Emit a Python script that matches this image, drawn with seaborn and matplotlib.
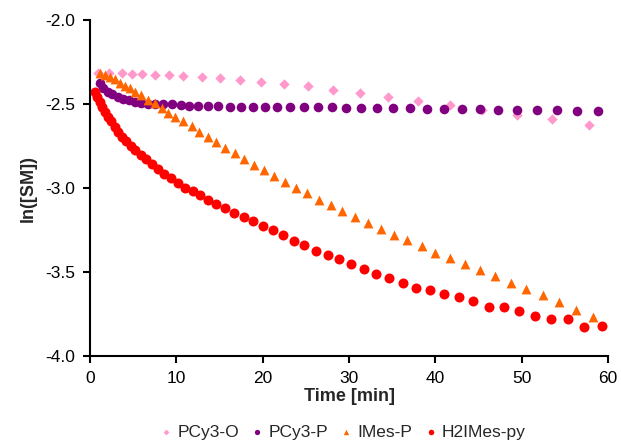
import numpy as np
import pandas as pd
import seaborn as sns
import matplotlib.pyplot as plt

# data
pcy3o_t = [0.89, 2.20, 3.75, 4.84, 6.00, 7.54, 9.16, 10.79, 12.96, 15.08, 17.40, 19.80,
           22.42, 25.21, 28.15, 31.24, 34.54, 38.05, 41.68, 45.44, 49.42, 53.56, 57.81]
pcy3o_y = [-2.311, -2.313, -2.314, -2.318, -2.320, -2.324, -2.326, -2.332, -2.336, -2.344,
           -2.354, -2.364, -2.376, -2.392, -2.412, -2.432, -2.454, -2.479, -2.503, -2.533,
           -2.563, -2.590, -2.622]

pcy3p_t = [1.16, 1.54, 2.05, 2.59, 3.21, 3.86, 4.56, 5.22, 5.92, 6.69, 7.54, 8.50, 9.48,
           10.56, 11.52, 12.56, 13.72, 14.88, 16.16, 17.48, 18.83, 20.30, 21.66, 23.20,
           24.74, 26.37, 27.99, 29.70, 31.44, 33.26, 35.12, 37.04, 38.98, 40.95, 43.04,
           45.13, 47.30, 49.50, 51.78, 54.06, 56.42, 58.82]
pcy3p_y = [-2.374, -2.404, -2.424, -2.439, -2.454, -2.467, -2.477, -2.487, -2.493, -2.499,
           -2.499, -2.499, -2.500, -2.506, -2.509, -2.509, -2.509, -2.509, -2.513, -2.515,
           -2.515, -2.517, -2.513, -2.513, -2.515, -2.515, -2.517, -2.519, -2.519, -2.521,
           -2.521, -2.523, -2.525, -2.525, -2.529, -2.529, -2.533, -2.535, -2.533, -2.535,
           -2.539, -2.540]

imes_t = [1.16, 1.74, 2.32, 2.90, 3.48, 4.06, 4.64, 5.22, 5.92, 6.69, 7.54, 8.32, 9.08,
          9.86, 10.75, 11.80, 12.68, 13.65, 14.62, 15.66, 16.74, 17.87, 19.03, 20.19,
          21.35, 22.59, 23.86, 25.17, 26.53, 27.88, 29.23, 30.74, 32.22, 33.72, 35.23,
          36.77, 38.40, 40.02, 41.73, 43.42, 45.16, 46.95, 48.72, 50.55, 52.44, 54.37,
          56.30, 58.27]
imes_y = [-2.314, -2.324, -2.338, -2.350, -2.370, -2.390, -2.404, -2.424, -2.443, -2.473,
          -2.493, -2.519, -2.552, -2.576, -2.602, -2.632, -2.662, -2.695, -2.727, -2.761,
          -2.790, -2.826, -2.860, -2.892, -2.926, -2.961, -2.997, -3.031, -3.068, -3.102,
          -3.136, -3.171, -3.205, -3.243, -3.279, -3.311, -3.346, -3.384, -3.415, -3.451,
          -3.485, -3.523, -3.563, -3.598, -3.638, -3.680, -3.727, -3.767]

h2imes_t = [0.58, 0.81, 1.10, 1.39, 1.68, 2.03, 2.44, 2.84, 3.25, 3.71, 4.18, 4.70, 5.22,
            5.86, 6.50, 7.16, 7.85, 8.62, 9.36, 10.17, 11.02, 11.87, 12.76, 13.72, 14.62,
            15.63, 16.71, 17.78, 18.87, 19.99, 21.15, 22.35, 23.58, 24.83, 26.18, 27.53,
            28.89, 30.28, 31.75, 33.18, 34.69, 36.23, 37.78, 39.44, 41.03, 42.73, 44.40,
            46.17, 47.91, 49.73, 51.59, 53.45, 55.34, 57.27, 59.28]
h2imes_y = [-2.424, -2.454, -2.483, -2.513, -2.543, -2.573, -2.602, -2.634, -2.664, -2.693,
            -2.720, -2.747, -2.774, -2.801, -2.827, -2.857, -2.884, -2.914, -2.940, -2.969,
            -3.001, -3.019, -3.039, -3.073, -3.096, -3.120, -3.146, -3.171, -3.195, -3.225,
            -3.251, -3.281, -3.313, -3.338, -3.372, -3.396, -3.424, -3.454, -3.481, -3.513,
            -3.537, -3.567, -3.592, -3.608, -3.632, -3.650, -3.671, -3.705, -3.707, -3.729,
            -3.759, -3.777, -3.777, -3.826, -3.823]

series = ["PCy3-O", "PCy3-P", "IMes-P", "H2IMes-py"]
colors = {"PCy3-O": "#ff99cc", "PCy3-P": "#800080", "IMes-P": "#ff6600", "H2IMes-py": "#ff0000"}
markers = {"PCy3-O": "D", "PCy3-P": "o", "IMes-P": "^", "H2IMes-py": "o"}
sizes = {"PCy3-O": 28, "PCy3-P": 48, "IMes-P": 50, "H2IMes-py": 52}

df = pd.concat([
    pd.DataFrame({"t": pcy3o_t, "y": pcy3o_y, "cat": "PCy3-O"}),
    pd.DataFrame({"t": pcy3p_t, "y": pcy3p_y, "cat": "PCy3-P"}),
    pd.DataFrame({"t": imes_t, "y": imes_y, "cat": "IMes-P"}),
    pd.DataFrame({"t": h2imes_t, "y": h2imes_y, "cat": "H2IMes-py"}),
])

sns.set_theme(style="white")
plt.rcParams["font.family"] = ["Liberation Sans", "DejaVu Sans"]

fig = plt.figure(figsize=(6.21, 4.45), dpi=100)
ax = fig.add_axes([0.145, 0.2, 0.834, 0.754])

for name in series:
    sub = df[df["cat"] == name]
    sns.scatterplot(data=sub, x="t", y="y", ax=ax, color=colors[name],
                    marker=markers[name], s=sizes[name], linewidth=0, label=name)

ax.set_xlim(0, 60)
ax.set_ylim(-4.0, -2.0)
ax.set_xticks(np.arange(0, 61, 10))
yt = np.arange(-4.0, -1.99, 0.5)
ax.set_yticks(yt)
ax.set_yticklabels([f"{v:.1f}" for v in yt])
ax.tick_params(axis="both", direction="out", length=5, width=1.5, labelsize=12.5,
               colors="black", bottom=True, left=True, pad=6)
for side in ["left", "bottom"]:
    ax.spines[side].set_color("black")
    ax.spines[side].set_linewidth(1.5)
sns.despine(ax=ax)

ax.set_xlabel("Time [min]", fontsize=13, fontweight="bold", labelpad=1)
ax.set_ylabel("ln([SM])", fontsize=13, fontweight="bold", labelpad=6)

handles, labels = ax.get_legend_handles_labels()
ax.legend_.remove()
fig.legend(handles, labels, loc="center", bbox_to_anchor=(0.548, 0.029), ncol=4,
           frameon=False, fontsize=12.5, handletextpad=0.0, columnspacing=0.4,
           handlelength=1.3, markerscale=0.55)

fig.savefig("out.png", dpi=100)
